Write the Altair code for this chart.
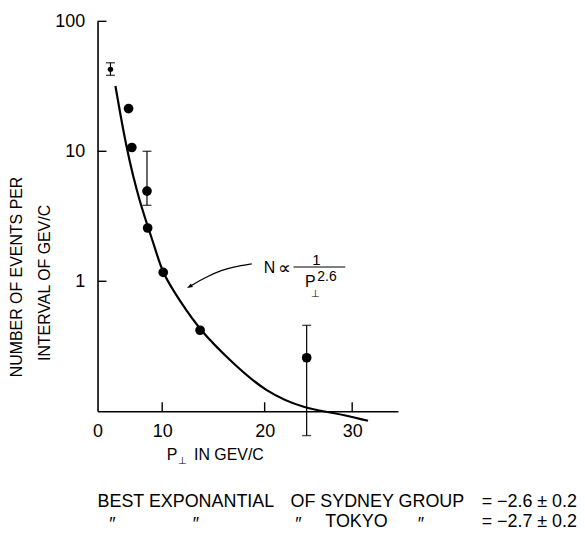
import altair as alt
import pandas as pd

# ---- data ----
pt_x = [2.0, 4.8, 5.3, 7.65, 7.75, 10.1, 13.7, 24.8]
pt_n = [42.7, 21.3, 10.7, 4.94, 2.57, 1.17, 0.42, 0.258]
pt_size = ["small", "big", "big", "big", "big", "big", "big", "big"]

err_x = [2.0, 7.65, 24.8]
err_lo = [38.4, 3.84, 0.065]
err_hi = [48.0, 10.0, 0.458]

fit_x = [2.77, 4.42, 6.46, 9.03, 10.0, 11.65, 13.69, 16.8, 20.1, 24.77, 27.6, 31.8]
fit_n = [31.8, 10.7, 4.07, 1.74, 1.16, 0.721, 0.418, 0.238, 0.140, 0.104, 0.0985, 0.0845]

arrow_x = [18.74, 17.0, 15.83, 14.27, 12.62]
arrow_n = [1.36, 1.29, 1.22, 1.08, 0.906]

y_ticks = [1, 10, 100]
x_ticks = [10, 20, 30]
x_label_values = [0, 10, 20, 30]

W, H = 302, 392
FONT = "Liberation Sans"

# the hand-drawn axis has uneven tick spacing: piecewise linear scale
xs = alt.Scale(domain=[0, 10, 20, 30, 35.2], range=[0, 65, 168, 256, 302], nice=False, zero=False)
ys = alt.Scale(type="log", domain=[0.1, 100], nice=False)

pts = pd.DataFrame({"x": pt_x, "n": pt_n, "s": pt_size})
errs = pd.DataFrame({"x": err_x, "lo": err_lo, "hi": err_hi})
fit = pd.DataFrame({"x": fit_x, "n": fit_n, "o": list(range(len(fit_x)))})
arr = pd.DataFrame({"x": arrow_x, "n": arrow_n, "o": list(range(len(arrow_x)))})

X = alt.X("x:Q", scale=xs,
          axis=alt.Axis(values=x_label_values, ticks=False, grid=False, domain=True,
                        domainColor="black", domainWidth=1.6, labelFont=FONT,
                        labelFontSize=18, labelColor="black", labelPadding=11,
                        labelFlush=False, labelOverlap=False, title=None))
Y = alt.Y("n:Q", scale=ys,
          axis=alt.Axis(values=y_ticks, ticks=False, grid=False, domain=True,
                        domainColor="black", domainWidth=1.6, labelFont=FONT,
                        labelFontSize=18, labelColor="black", labelPadding=13,
                        labelFlush=False, labelOverlap=False,
                        labelExpr="format(datum.value, 'd')",
                        title=None))

base_axes = alt.Chart(pts).mark_point(opacity=0).encode(x=X, y=Y)

curve = alt.Chart(fit).mark_line(color="black", strokeWidth=2.2, interpolate="basis", clip=False).encode(
    x=alt.X("x:Q", scale=xs), y=alt.Y("n:Q", scale=ys), order="o:Q")

dots = alt.Chart(pts).mark_circle(color="black", opacity=1).encode(
    x=alt.X("x:Q", scale=xs), y=alt.Y("n:Q", scale=ys),
    size=alt.Size("s:N", scale=alt.Scale(domain=["small", "big"], range=[30, 95]), legend=None))

ebar = alt.Chart(errs).mark_rule(color="black", strokeWidth=1.2).encode(
    x=alt.X("x:Q", scale=xs), y=alt.Y("lo:Q", scale=ys), y2="hi:Q")
cap_lo = alt.Chart(errs).mark_tick(color="black", thickness=1.4, size=9, orient="horizontal").encode(
    x=alt.X("x:Q", scale=xs), y=alt.Y("lo:Q", scale=ys))
cap_hi = alt.Chart(errs).mark_tick(color="black", thickness=1.4, size=9, orient="horizontal").encode(
    x=alt.X("x:Q", scale=xs), y=alt.Y("hi:Q", scale=ys))

# inward ticks
ytick_df = pd.DataFrame({"n": y_ticks})
ytk = alt.Chart(ytick_df).mark_rule(color="black", strokeWidth=1.4).encode(
    y=alt.Y("n:Q", scale=ys), x=alt.value(0), x2=alt.value(9))
xtick_df = pd.DataFrame({"x": x_ticks})
xtk = alt.Chart(xtick_df).mark_rule(color="black", strokeWidth=1.4).encode(
    x=alt.X("x:Q", scale=xs), y=alt.value(H), y2=alt.value(H - 9))

arrow_line = alt.Chart(arr).mark_line(color="black", strokeWidth=1.2, interpolate="basis").encode(
    x=alt.X("x:Q", scale=xs), y=alt.Y("n:Q", scale=ys), order="o:Q")
arrow_head = alt.Chart(arr.tail(1)).mark_point(
    shape="M -1 -0.6 L 0.7 0 L -1 0.6 Z", filled=True, color="black", opacity=1,
    size=45, angle=150).encode(x=alt.X("x:Q", scale=xs), y=alt.Y("n:Q", scale=ys))


def txt(s, x, y, size=16, align="center", angle=0, baseline="middle"):
    return alt.Chart(pd.DataFrame({"t": [s]})).mark_text(
        font=FONT, fontSize=size, color="black", align=align, baseline=baseline,
        angle=angle).encode(text="t:N", x=alt.value(x), y=alt.value(y))


frac_bar = alt.Chart(pd.DataFrame({"a": [0]})).mark_rule(color="black", strokeWidth=1.2).encode(
    x=alt.value(197), x2=alt.value(249), y=alt.value(247))

BS = 18
texts = [
    txt("N", 167, 248, 16, "left"),
    txt("\u221d", 181, 249, 18, "left"),
    txt("1", 220, 240, 15),
    txt("P", 214, 262, 16),
    txt("\u22a5", 219, 274, 10),
    txt("2.6", 221, 257, 14, "left"),
    # x title
    txt("P", 75, 436, 16),
    txt("\u22a5", 85, 442, 10),
    txt("IN GEV/C", 97, 436, 16, "left"),
    # y title
    txt("NUMBER OF EVENTS PER", -81, 257, 16, angle=270),
    txt("INTERVAL OF GEV/C", -53, 263, 16, angle=270),
    # bottom notes
    txt("BEST EXPONANTIAL", 0, 483, BS, "left"),
    txt("OF SYDNEY GROUP", 194, 483, BS, "left"),
    txt("= \u22122.6 \u00b1 0.2", 482, 483, BS, "right"),
    txt("\u2033", 15, 506, BS),
    txt("\u2033", 99, 506, BS),
    txt("\u2033", 202, 506, BS),
    txt("TOKYO", 229, 503, BS, "left"),
    txt("\u2033", 325, 506, BS),
    txt("= \u22122.7 \u00b1 0.2", 482, 503, BS, "right"),
]

chart = alt.layer(base_axes, curve, ebar, cap_lo, cap_hi, dots, ytk, xtk,
                  arrow_line, arrow_head, frac_bar, *texts).properties(
    width=W, height=H,
    autosize=alt.AutoSizeParams(type="none"),
    padding={"left": 90, "top": 12, "right": 180, "bottom": 121},
    background="white",
).configure_view(stroke=None)

chart.save("out.html", embed_options={"renderer": "svg", "actions": False})
